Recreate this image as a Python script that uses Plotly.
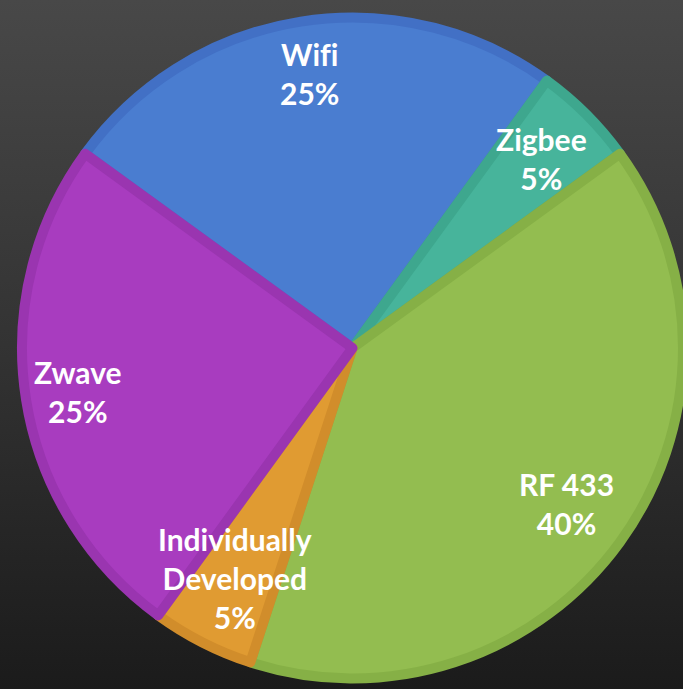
import math
import base64
import plotly.graph_objects as go

labels = ["Wifi", "Zigbee", "RF 433", "Individually Developed", "Zwave"]
values = [25, 5, 40, 5, 25]
label_text = ["Wif\u200ci", "Zigbee", "RF 433", "Individually<br>Developed", "Zwave"]
fill_colors = ["#4a7dd0", "#47b49b", "#93bd50", "#e09b32", "#a83cbf"]
line_colors = ["#4270c5", "#3ea78e", "#86b046", "#d18d2b", "#9a35b0"]
label_radius = [0.84, 0.81, 0.8, 0.78, 0.84]

W, H = 683, 689
start_angle = -54  # degrees clockwise from 12 o'clock where Wifi starts

# pie domain (pixels)
x0, x1 = 22.0, 683.0
size = x1 - x0
cx_px = (x0 + x1) / 2
cy_from_bottom = 341.0
y0 = cy_from_bottom - size / 2
y1 = cy_from_bottom + size / 2

svg = (
    '<svg xmlns="http://www.w3.org/2000/svg" width="683" height="689">'
    '<defs><linearGradient id="g" x1="0" y1="0" x2="0" y2="1">'
    '<stop offset="0" stop-color="#484848"/>'
    '<stop offset="0.5" stop-color="#333333"/>'
    '<stop offset="1" stop-color="#1b1b1b"/>'
    '</linearGradient></defs>'
    '<rect width="683" height="689" fill="url(#g)"/></svg>'
)
bg_uri = "data:image/svg+xml;base64," + base64.b64encode(svg.encode()).decode()

fig = go.Figure(
    go.Pie(
        labels=labels,
        values=values,
        sort=False,
        direction="clockwise",
        rotation=start_angle,
        marker=dict(colors=fill_colors, line=dict(color=line_colors, width=10)),
        textinfo="none",
        hoverinfo="label+percent",
        domain=dict(x=[x0 / W, x1 / W], y=[y0 / H, y1 / H]),
        showlegend=False,
    )
)

total = sum(values)
r_px = size / 2
cum = 0
annotations = []
for lab, v, rf in zip(label_text, values, label_radius):
    mid = start_angle + (cum + v / 2) / total * 360
    cum += v
    th = math.radians(mid)
    ax = (cx_px + rf * r_px * math.sin(th)) / W
    ay = (cy_from_bottom + rf * r_px * math.cos(th)) / H
    pct = round(v / total * 100)
    annotations.append(
        dict(
            x=ax, y=ay, xref="paper", yref="paper",
            xanchor="center", yanchor="middle",
            text=f"<b>{lab}<br>{pct}%</b>",
            showarrow=False,
            font=dict(family="Lato", size=30, color="white"),
            align="center",
        )
    )

fig.update_layout(
    width=W,
    height=H,
    margin=dict(l=0, r=0, t=0, b=0),
    paper_bgcolor="#333333",
    plot_bgcolor="rgba(0,0,0,0)",
    annotations=annotations,
    images=[
        dict(
            source=bg_uri, xref="paper", yref="paper", x=0, y=1,
            sizex=1, sizey=1, sizing="stretch", layer="below",
            xanchor="left", yanchor="top",
        )
    ],
)

fig.write_html(
    "out.html",
    config={"displayModeBar": False},
    post_script="document.body.style.margin='0';document.body.style.background='#1b1b1b';",
)
